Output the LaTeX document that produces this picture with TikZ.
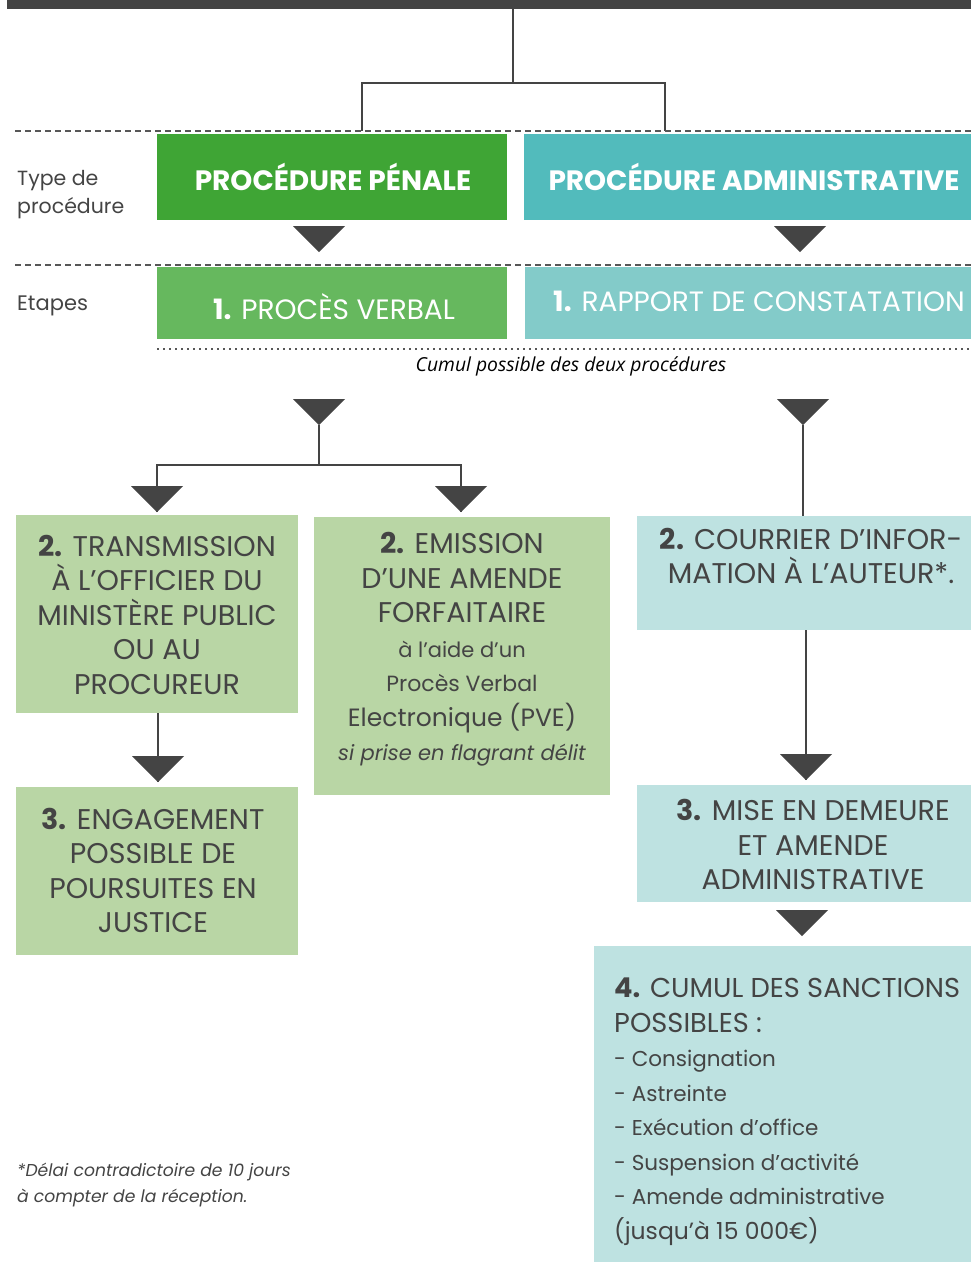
\documentclass[tikz,border=0pt]{standalone}
\usepackage{fontspec}
\setmainfont{Poppins}
\newfontfamily\notefont{Open Sans}
\usetikzlibrary{positioning}
\definecolor{inkgray}{HTML}{444444}
\definecolor{penal}{HTML}{3FA535}
\definecolor{admin}{HTML}{52BBBC}
\definecolor{penalstep}{HTML}{66B85E}
\definecolor{adminstep}{HTML}{83CBC9}
\definecolor{penalpale}{HTML}{B9D6A5}
\definecolor{adminpale}{HTML}{BEE2E1}
\newcommand{\downtri}[1]{
    \fill[inkgray] (#1) -- ++(-26,-26) -- ++(52,0) -- cycle;
}
\newcommand{\sz}[1]{\fontsize{#1}{34.5}\selectfont}
\tikzset{
    box/.style={rectangle, inner sep=0pt},
    headtext/.style={text=white, font=\fontsize{28}{30}\selectfont\bfseries},
    steptext/.style={text=inkgray, align=center, inner sep=0pt, font=\fontsize{28.5}{34.5}\selectfont},
    sidetext/.style={text=inkgray, align=left, anchor=west, inner sep=0pt, font=\fontsize{20.5}{28}\selectfont},
    link/.style={inkgray, line width=2pt},
}

\begin{document}
\begin{tikzpicture}[x=1pt,y=-1pt]
        \useasboundingbox (0,0) rectangle (971,1262);
        % top bar and fork
        \node[box, fill=inkgray, minimum width=964, minimum height=9] (bar) at (489,4.5) {};
        \coordinate (split) at (513,83);
        \coordinate (forkL) at (362,131);
        \coordinate (forkR) at (665,131);
        \draw[link] (bar.south -| split) -- (split);
        \draw[link] (forkL) |- (split) -| (forkR);

        % row separators
        \draw[inkgray!90, line width=2pt, dash pattern=on 6pt off 4pt] (15,131) -- (971,131);
        \draw[inkgray!90, line width=2pt, dash pattern=on 6pt off 4pt] (15,265) -- (971,265);
        \draw[inkgray!90, line width=2pt, dash pattern=on 2pt off 4pt] (157,349) -- (971,349);

        % row labels
        \node[sidetext] (typeLbl) at (17,195) {Type de\\procédure};
        \node[sidetext, font=\fontsize{21}{28}\selectfont] (stepLbl) at (17,306) {Etapes};

        % procedure type
        \node[box, fill=penal, minimum width=350, minimum height=86] (penalA) at (332,177) {};
        \node[headtext] (penalAt) at (333,177) {PROCÉDURE PÉNALE};
        \node[box, fill=admin, minimum width=447, minimum height=86] (adminA) at (747.5,177) {};
        \node[headtext] (adminAt) at (754,177) {PROCÉDURE ADMINISTRATIVE};

        % step 1
        \node[box, fill=penalstep, minimum width=350, minimum height=72] (penalB) at (332,303) {};
        \node[headtext, font=\fontsize{28}{30}\selectfont] (penalBt) at (334,307) {\textbf{1.} PROCÈS VERBAL};
        \node[box, fill=adminstep, minimum width=446, minimum height=72] (adminB) at (748,303) {};
        \node[headtext, font=\fontsize{28}{30}\selectfont] (adminBt) at (759,301) {\textbf{1.} RAPPORT DE CONSTATATION};
        \node[font=\notefont\itshape\fontsize{19.3}{22}\selectfont] (cumulNote) at (571,366) {Cumul possible des deux procédures};

        % step 2
        \node[box, fill=penalpale, minimum width=282, minimum height=198] (trans) at (157,614) {};
        \node[steptext] (transt) at (157,614.5) {\textbf{2.} TRANSMISSION\\À L’OFFICIER DU\\MINISTÈRE PUBLIC\\OU AU\\PROCUREUR};
        \node[box, fill=penalpale, minimum width=296, minimum height=278] (emis) at (462,656) {};
        \node[steptext] (emist) at (462,649.5) {\textbf{2.} EMISSION\\D’UNE AMENDE\\FORFAITAIRE\\{\sz{21}à l’aide d’un}\\{\sz{22}Procès Verbal}\\{\sz{25}Electronique (PVE)}\\{\sz{21}\itshape si prise en flagrant délit}};
        \node[box, fill=adminpale, minimum width=334, minimum height=114] (cour) at (804,573) {};
        \node[steptext] (court) at (811,556) {\textbf{2.} COURRIER D’INFOR-\\MATION À L’AUTEUR*.};

        % step 3
        \node[box, fill=penalpale, minimum width=282, minimum height=168] (eng) at (157,871) {};
        \node[steptext] (engt) at (153,870.5) {\textbf{3.} ENGAGEMENT\\POSSIBLE DE\\POURSUITES EN\\JUSTICE};
        \node[box, fill=adminpale, minimum width=334, minimum height=117] (mise) at (804,843.5) {};
        \node[steptext] (miset) at (813,844.5) {\textbf{3.} MISE EN DEMEURE\\ET AMENDE\\ADMINISTRATIVE};

        % step 4
        \node[box, fill=adminpale, minimum width=377, minimum height=316] (sanc) at (782.5,1104) {};
        \node[steptext, align=left, anchor=west, font=\fontsize{27.3}{34.5}\selectfont] (sanct) at (614,1111.5) {\textbf{4.} CUMUL DES SANCTIONS\\POSSIBLES :\\{\sz{21.5}- Consignation}\\{\sz{21.5}- Astreinte}\\{\sz{21.5}- Exécution d’office}\\{\sz{21.5}- Suspension d’activité}\\{\sz{21.5}- Amende administrative}\\{\sz{23.5}(jusqu’à 15 000€)}};

        % footnote
        \node[sidetext, font=\fontsize{17.2}{26}\selectfont\itshape] (footNote) at (17,1185) {*Délai contradictoire de 10 jours\\à compter de la réception.};

        % connectors
        \coordinate (t1) at (319,252);
        \coordinate (t2) at (800,252);
        \coordinate (t3) at (319,425);
        \coordinate (t4) at (803,425);
        \coordinate (t5) at (157,512);
        \coordinate (t6) at (461,512);
        \coordinate (t7) at (158,782);
        \coordinate (t8) at (806,780);
        \coordinate (t9) at (802,936);
        \coordinate (penalFork) at (319,465);
        \draw[link] (t3) -- (penalFork);
        \draw[link] (t5) |- (penalFork) -| (t6);
        \draw[link] (t4) -- (t4 |- cour.north);
        \draw[link] (trans.south -| t7) -- (t7);
        \draw[link] (cour.south -| t8) -- (t8);
        \foreach \t in {t1,t2,t3,t4,t5,t6,t7,t8,t9} {\downtri{\t}}
    \end{tikzpicture}
\end{document}
